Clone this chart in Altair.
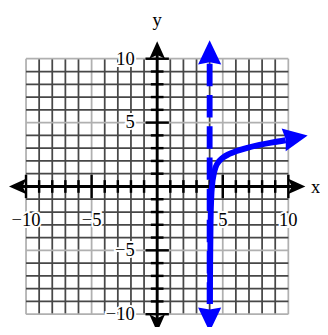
import altair as alt
import pandas as pd

# ---- data ----
grid_vals = list(range(-10, 11))
tick_vals = [v for v in range(-10, 11) if v != 0]
xlabel_vals = [-10, -5, 5, 10]
xlabel_text = ["\u221210", "\u22125", "5", "10"]
ylabel_vals = [10, 5, -5, -10]
ylabel_text = ["10", "5", "\u22125", "\u221210"]

asymptote_x = 4
asym_y_top = 9.6
asym_y_bottom = -9.2

curve_x = [4.02, 4.04, 4.07, 4.12, 4.2, 4.3, 4.45, 4.7, 5.0, 5.5, 6.0, 6.8, 7.8, 8.8, 9.8]
curve_y = [-9.2, -6.0, -3.0, -1.0, 0.2, 0.9, 1.5, 1.95, 2.25, 2.55, 2.75, 3.0, 3.25, 3.45, 3.62]

axis_end = 10.6
# arrow heads: centre x, centre y, rotation
black_arrow_x = [10.63, -10.63, 0, 0]
black_arrow_y = [0, 0, 10.68, -10.7]
black_arrow_angle = [90, 270, 0, 180]
blue_arrow_x = [4, 4, 10.56]
blue_arrow_y = [10.5, -10.42, 3.82]
blue_arrow_angle = [0, 180, 80]

XDOM = [-11.375, 11.82]
YDOM = [-10.69, 13.66]
W, H = 312, 319

BLUE = "#0000ff"
SERIF = "Liberation Serif"
ARROW_BLUE = "M0,-1L0.95,1L0,0.82L-0.95,1Z"
ARROW_BLACK = "M0,-1L0.9,1L0,0.55L-0.9,1Z"


def X(f):
    return alt.X(f, type="quantitative", scale=alt.Scale(domain=XDOM, nice=False, zero=False), axis=None)


def Y(f):
    return alt.Y(f, type="quantitative", scale=alt.Scale(domain=YDOM, nice=False, zero=False), axis=None)


grid = pd.DataFrame({
    "v": grid_vals,
    "major": ["major" if v % 5 == 0 else "minor" for v in grid_vals],
    "lo": [-10] * len(grid_vals),
    "hi": [10] * len(grid_vals),
})
gcolor = alt.Color("major:N", scale=alt.Scale(domain=["major", "minor"], range=["#b0b0b0", "#474747"]), legend=None)

vgrid = alt.Chart(grid).mark_rule(strokeWidth=1.8).encode(x=X("v"), y=Y("lo"), y2="hi", color=gcolor)
hgrid = alt.Chart(grid).mark_rule(strokeWidth=1.8).encode(y=Y("v"), x=X("lo"), x2="hi", color=gcolor)

axes_df = pd.DataFrame({"a": [-axis_end], "b": [axis_end], "z": [0]})
xaxis = alt.Chart(axes_df).mark_rule(strokeWidth=3, color="black").encode(x=X("a"), x2="b", y=Y("z"))
yaxis = alt.Chart(axes_df).mark_rule(strokeWidth=3, color="black").encode(y=Y("a"), y2="b", x=X("z"))

ticks = pd.DataFrame({"v": tick_vals, "z": [0] * len(tick_vals)})
ticks_minor = ticks[ticks.v % 5 != 0]
ticks_major = ticks[ticks.v % 5 == 0]
xt_minor = alt.Chart(ticks_minor).mark_tick(orient="vertical", size=13, thickness=2.5, color="black", opacity=1).encode(x=X("v"), y=Y("z"))
xt_major = alt.Chart(ticks_major).mark_tick(orient="vertical", size=24, thickness=2.5, color="black", opacity=1).encode(x=X("v"), y=Y("z"))
yt_minor = alt.Chart(ticks_minor).mark_tick(orient="horizontal", size=13, thickness=2.5, color="black", opacity=1).encode(y=Y("v"), x=X("z"))
yt_major = alt.Chart(ticks_major).mark_tick(orient="horizontal", size=24, thickness=2.5, color="black", opacity=1).encode(y=Y("v"), x=X("z"))

xl = pd.DataFrame({"v": xlabel_vals, "t": xlabel_text, "z": [0] * 4})
yl = pd.DataFrame({"v": ylabel_vals, "t": ylabel_text, "z": [0] * 4})

def labels(df, horiz):
    if horiz:
        enc = dict(x=X("v"), y=Y("z"), text="t:N")
        props = dict(dy=35, align="center", baseline="middle")
    else:
        enc = dict(y=Y("v"), x=X("z"), text="t:N")
        props = dict(dx=-23, align="right", baseline="middle")
    halo = alt.Chart(df).mark_text(font=SERIF, fontSize=19, fill="white", stroke="white", strokeWidth=4, **props).encode(**enc)
    txt = alt.Chart(df).mark_text(font=SERIF, fontSize=19, color="black", **props).encode(**enc)
    return halo + txt

asym = alt.Chart(pd.DataFrame({"x": [asymptote_x], "a": [asym_y_top], "b": [asym_y_bottom]})).mark_rule(
    strokeWidth=6, color=BLUE, strokeDash=[23, 9]
).encode(x=X("x"), y=Y("a"), y2="b")

curve = alt.Chart(pd.DataFrame({"x": curve_x, "y": curve_y})).mark_line(
    strokeWidth=6, color=BLUE, interpolate="monotone"
).encode(x=X("x"), y=Y("y"), order="x:Q")

black_arrows = alt.Chart(pd.DataFrame({"x": black_arrow_x, "y": black_arrow_y, "a": black_arrow_angle})).mark_point(
    shape=ARROW_BLACK, filled=True, size=324, color="black", opacity=1
).encode(x=X("x"), y=Y("y"), angle=alt.Angle("a:Q", scale=None))

blue_arrows = alt.Chart(pd.DataFrame({"x": blue_arrow_x, "y": blue_arrow_y, "a": blue_arrow_angle})).mark_point(
    shape=ARROW_BLUE, filled=True, size=625, color=BLUE, opacity=1
).encode(x=X("x"), y=Y("y"), angle=alt.Angle("a:Q", scale=None))

ylab = alt.Chart(pd.DataFrame({"x": [0], "y": [13.05], "t": ["y"]})).mark_text(
    font=SERIF, fontSize=19, align="center", baseline="middle", color="black").encode(x=X("x"), y=Y("y"), text="t:N")
xlab = alt.Chart(pd.DataFrame({"x": [11.72], "y": [0], "t": ["x"]})).mark_text(
    font=SERIF, fontSize=19, align="left", baseline="middle", dy=1, color="black").encode(x=X("x"), y=Y("y"), text="t:N")

chart = alt.layer(
    vgrid, hgrid, xaxis, yaxis, xt_minor, xt_major, yt_minor, yt_major,
    labels(xl, True), labels(yl, False), black_arrows, ylab, xlab,
    asym, curve, blue_arrows,
).properties(
    width=W, height=H,
    autosize=alt.AutoSizeParams(type="none"),
    padding={"left": 0, "top": 0, "right": 8, "bottom": 0},
    background="white",
).configure_view(stroke=None)

chart.save("out.html", embed_options={"renderer": "svg", "actions": False})
